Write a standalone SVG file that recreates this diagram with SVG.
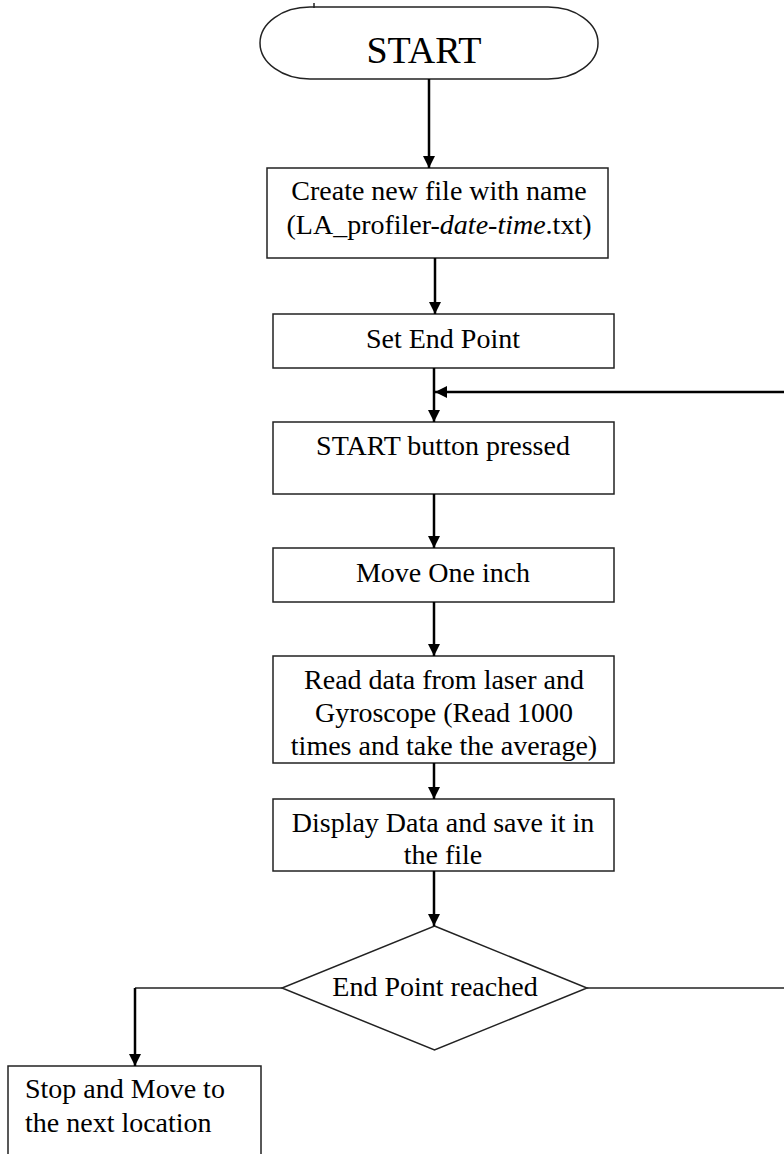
<svg xmlns="http://www.w3.org/2000/svg" width="784" height="1154" viewBox="0 0 784 1154">
<style>
.box{fill:#fff;stroke:#222;stroke-width:1.5}
.t{font-family:"Liberation Serif","Times New Roman",serif;font-size:28px;fill:#000;text-anchor:middle}
.tl{font-family:"Liberation Serif","Times New Roman",serif;font-size:28px;fill:#000}
.c{stroke:#000;stroke-width:2.5;fill:none}
.thin{stroke:#222;stroke-width:1.5;fill:none}
</style>
<defs>
<marker id="ah" viewBox="0 0 12 12" refX="12" refY="6" markerWidth="12" markerHeight="12" markerUnits="userSpaceOnUse" orient="auto">
<path d="M0,0 L12,6 L0,12 z" fill="#000"/>
</marker>
</defs>
<g id="start">
<path class="box" d="M310,7 L548,7 A50,36 0 0 1 548,79 L310,79 A50,36 0 0 1 310,7 Z"/>
<line x1="314" y1="3" x2="314" y2="8" stroke="#222" stroke-width="1.5"/>
<text class="t" x="424" y="63" style="font-size:38px">START</text>
</g>
<g id="create">
<rect class="box" x="267" y="168" width="341" height="90"/>
<text class="t" x="439" y="200">Create new file with name</text>
<text class="t" x="439" y="234">(LA_profiler-<tspan font-style="italic">date-time</tspan>.txt)</text>
</g>
<g id="setend">
<rect class="box" x="273" y="314" width="341" height="54"/>
<text class="t" x="443" y="348">Set End Point</text>
</g>
<g id="startbtn">
<rect class="box" x="273" y="422" width="341" height="72"/>
<text class="t" x="443" y="455">START button pressed</text>
</g>
<g id="move">
<rect class="box" x="273" y="548" width="341" height="54"/>
<text class="t" x="443" y="582">Move One inch</text>
</g>
<g id="read">
<rect class="box" x="273" y="656" width="341" height="107"/>
<text class="t" x="444" y="689">Read data from laser and</text>
<text class="t" x="444" y="722">Gyroscope (Read 1000</text>
<text class="t" x="444" y="755">times and take the average)</text>
</g>
<g id="display">
<rect class="box" x="273" y="799" width="341" height="72"/>
<text class="t" x="443" y="832">Display Data and save it in</text>
<text class="t" x="443" y="864">the file</text>
</g>
<g id="decision">
<polygon class="box" points="434.5,926 587,988 434.5,1050 282,988"/>
<text class="t" x="435" y="996">End Point reached</text>
</g>
<g id="stop">
<rect class="box" x="8" y="1066" width="253" height="100"/>
<text class="tl" x="25" y="1098">Stop and Move to</text>
<text class="tl" x="25" y="1132">the next location</text>
</g>
<g id="connectors">
<line class="c" x1="429" y1="79" x2="429" y2="168" marker-end="url(#ah)"/>
<line class="c" x1="435" y1="258" x2="435" y2="314" marker-end="url(#ah)"/>
<line class="c" x1="434" y1="368" x2="434" y2="422" marker-end="url(#ah)"/>
<line class="c" x1="784" y1="392" x2="435" y2="392" marker-end="url(#ah)"/>
<line class="c" x1="434" y1="494" x2="434" y2="548" marker-end="url(#ah)"/>
<line class="c" x1="434" y1="602" x2="434" y2="656" marker-end="url(#ah)"/>
<line class="c" x1="434" y1="763" x2="434" y2="799" marker-end="url(#ah)"/>
<line class="c" x1="434" y1="871" x2="434" y2="926" marker-end="url(#ah)"/>
<line class="thin" x1="587" y1="988" x2="784" y2="988"/>
<line class="thin" x1="282" y1="988" x2="135" y2="988"/>
<line class="c" x1="135" y1="988" x2="135" y2="1066" marker-end="url(#ah)"/>
</g>
</svg>
